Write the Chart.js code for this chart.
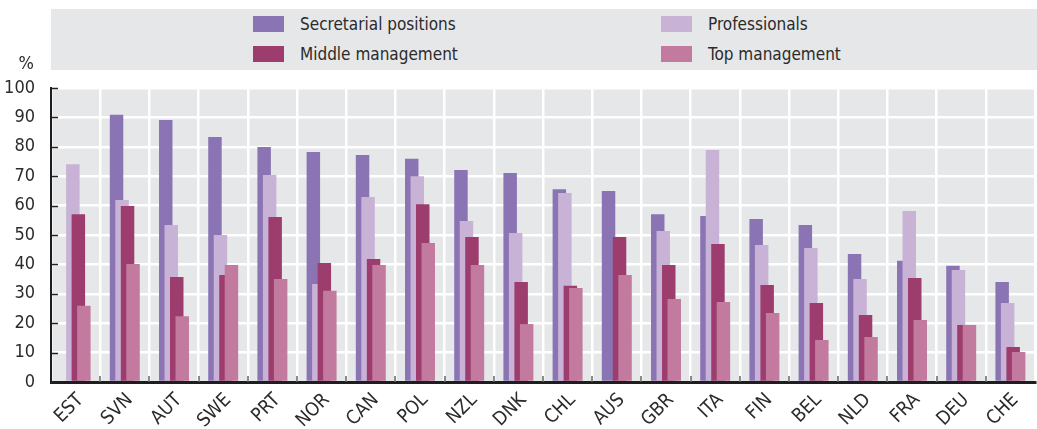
<!DOCTYPE html>
<html>
<head>
<meta charset="utf-8">
<script src="https://cdn.jsdelivr.net/npm/chart.js@4/dist/chart.umd.min.js"></script>
<style>
  html, body { margin: 0; padding: 0; background: #ffffff; }
  #wrap { position: relative; width: 1037px; height: 429px; font-family: "DejaVu Sans Condensed", "Liberation Sans", sans-serif; color: #2b2b2b; }
  #chart { position: absolute; left: 0; top: 0; }
  #legend { position: absolute; left: 51px; top: 9px; width: 986px; height: 61px; background: #e6e7e9; }
  .item { position: absolute; height: 16px; display: flex; align-items: center; font-size: 17px; white-space: nowrap; }
  .item span.sw { display: inline-block; width: 31px; height: 16px; margin-right: 16px; }
  #unit { position: absolute; right: calc(1037px - 34px); top: 52px; font-size: 18px; }
</style>
</head>
<body>
<div id="wrap">
  <canvas id="chart" width="1037" height="429"></canvas>
  <div id="legend"></div>
  <div id="unit">%</div>
</div>
<script>
// Share of women by occupational level, per country (%)
const countries = ["EST","SVN","AUT","SWE","PRT","NOR","CAN","POL","NZL","DNK","CHL","AUS","GBR","ITA","FIN","BEL","NLD","FRA","DEU","CHE"];
const secretarial = [null, 90.9, 89.1, 83.3, 79.9, 78.2, 77.2, 75.9, 72.1, 71.1, 65.6, 65.0, 57.1, 56.5, 55.4, 53.4, 43.5, 41.2, 39.5, 34.0];
const professionals = [74.1, 61.9, 53.4, 50.0, 70.4, 33.3, 62.9, 70.0, 54.8, 50.7, 64.3, null, 51.4, 78.9, 46.6, 45.6, 35.0, 58.2, 38.1, 26.9];
const middleMgmt = [57.1, 59.9, 35.7, 36.4, 56.1, 40.5, 41.8, 60.5, 49.3, 34.0, 32.7, 49.3, 39.8, 46.9, 33.0, 26.9, 22.8, 35.4, 19.4, 11.9];
const topMgmt = [25.9, 40.1, 22.4, 39.8, 35.0, 31.0, 39.8, 47.3, 39.8, 19.7, 32.0, 36.4, 28.2, 27.2, 23.5, 14.3, 15.3, 21.1, 19.4, 10.2];
const yTicks = [0, 10, 20, 30, 40, 50, 60, 70, 80, 90, 100];

const seriesNames = ["Secretarial positions", "Professionals", "Middle management", "Top management"];
const seriesColors = ["#8a74b4", "#c8b3d6", "#9c3d6e", "#c27a9e"];
const seriesData = [secretarial, professionals, middleMgmt, topMgmt];

const FONT = "'DejaVu Sans Condensed', 'Liberation Sans', sans-serif";
const PLOT_BG = "#e6e7e9";

// Legend: two columns, two rows
const legendEl = document.getElementById('legend');
const legendSlots = [
  { left: 202, top: 7 },   // Secretarial positions
  { left: 610, top: 7 },   // Professionals
  { left: 202, top: 37 },  // Middle management
  { left: 610, top: 37 }   // Top management
];
seriesNames.forEach((name, i) => {
  const d = document.createElement('div');
  d.className = 'item';
  d.style.left = legendSlots[i].left + 'px';
  d.style.top = legendSlots[i].top + 'px';
  d.innerHTML = '<span class="sw" style="background:' + seriesColors[i] + '"></span>' + name;
  legendEl.appendChild(d);
});

// Grey plot background
const plotBackground = {
  id: 'plotBackground',
  beforeDraw(chart) {
    const { ctx, chartArea: a } = chart;
    ctx.save();
    ctx.fillStyle = PLOT_BG;
    ctx.fillRect(a.left, a.top, a.right - a.left, a.bottom - a.top);
    ctx.restore();
  }
};

// Short tick marks pointing into the plot, then the bars painted
// left-to-right within each group so each later series overlaps the previous one
const overlapDraw = {
  id: 'overlapDraw',
  beforeDatasetsDraw(chart) {
    const { ctx, chartArea: a, scales } = chart;
    ctx.save();
    ctx.lineWidth = 1.5;
    ctx.strokeStyle = '#222';
    scales.y.ticks.forEach(t => {
      const y = Math.round(scales.y.getPixelForValue(t.value)) + 0.5;
      ctx.beginPath();
      ctx.moveTo(a.left, y);
      ctx.lineTo(a.left + 7, y);
      ctx.stroke();
    });
    ctx.strokeStyle = '#666';
    const n = countries.length;
    for (let i = 1; i < n; i++) {
      const x = Math.round((scales.x.getPixelForValue(i - 1) + scales.x.getPixelForValue(i)) / 2);
      ctx.beginPath();
      ctx.moveTo(x, a.bottom);
      ctx.lineTo(x, a.bottom - 6);
      ctx.stroke();
    }
    ctx.restore();

    for (let i = 0; i < chart.data.datasets.length; i++) {
      chart.getDatasetMeta(i).controller.draw();
    }
    return false;
  }
};

new Chart(document.getElementById('chart'), {
  type: 'bar',
  data: {
    labels: countries,
    datasets: seriesData.map((d, i) => ({
      label: seriesNames[i],
      data: d,
      backgroundColor: seriesColors[i],
      borderWidth: 0,
      categoryPercentage: 0.447,
      barPercentage: 2.45
    }))
  },
  options: {
    responsive: false,
    animation: false,
    devicePixelRatio: 1,
    layout: { padding: { left: 0, right: 2, top: 88, bottom: 0 } },
    plugins: { legend: { display: false }, tooltip: { enabled: false } },
    scales: {
      x: {
        offset: true,
        grid: { offset: true, color: '#ffffff', lineWidth: 2.5, drawTicks: false },
        border: { display: true, color: '#1e1e1e', width: 3 },
        ticks: {
          color: '#2b2b2b',
          font: { family: FONT, size: 19 },
          minRotation: 45,
          maxRotation: 45,
          padding: 7,
          labelOffset: 5,
          autoSkip: false
        },
        afterFit(scale) { scale.height = 47; }
      },
      y: {
        min: 0,
        max: 100,
        afterBuildTicks(scale) { scale.ticks = yTicks.map(v => ({ value: v })); },
        grid: { color: '#ffffff', lineWidth: 2.5, drawTicks: false },
        border: { display: true, color: '#1e1e1e', width: 2 },
        ticks: {
          color: '#2b2b2b',
          font: { family: FONT, size: 18 },
          padding: 16
        },
        afterFit(scale) { scale.width = 51; }
      }
    }
  },
  plugins: [plotBackground, overlapDraw]
});
</script>
</body>
</html>
